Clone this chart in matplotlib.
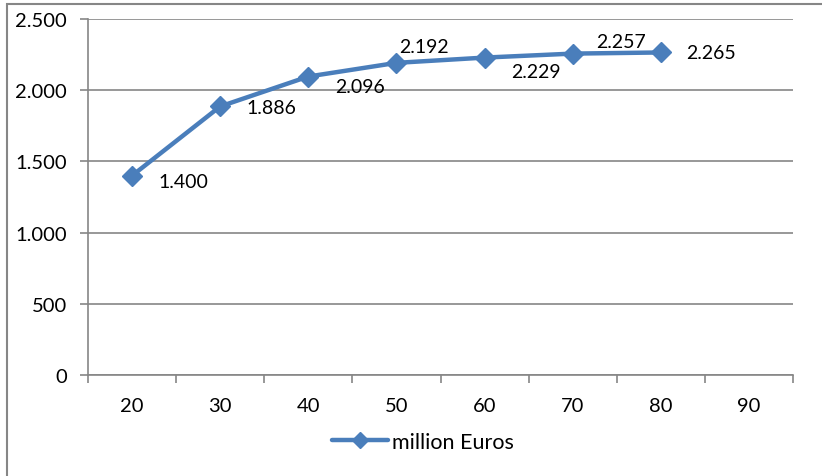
import matplotlib.pyplot as plt
from matplotlib.patches import Rectangle

# data
categories = ['20', '30', '40', '50', '60', '70', '80', '90']
values = [1400, 1886, 2096, 2192, 2229, 2257, 2265]
labels = ['1.400', '1.886', '2.096', '2.192', '2.229', '2.257', '2.265']
yticks = [0, 500, 1000, 1500, 2000, 2500]
ytick_labels = ['0', '500', '1.000', '1.500', '2.000', '2.500']

# label offsets (points) per data label
offsets = [(19, -4), (19, -1), (19, -7), (2, 12), (19, -10), (17, 9), (18, 0)]

plt.rcParams['font.family'] = ['Lato', 'DejaVu Sans']
grey = '#868686'
blue = '#4A7EBB'

fig = plt.figure(figsize=(8.22, 4.77), dpi=100)
ax = fig.add_axes([88 / 822, 1 - 376 / 477, (793 - 88) / 822, (376 - 20) / 477])

x = list(range(len(values)))
ax.plot(x, values, color=blue, lw=3.2, marker='D', ms=10,
        markerfacecolor=blue, markeredgecolor=blue, label='million Euros',
        solid_capstyle='round', zorder=3)

for xi, v, t, off in zip(x, values, labels, offsets):
    ax.annotate(t, (xi, v), xytext=off, textcoords='offset points',
                ha='left', va='center', fontsize=14, color='black')

ax.set_xlim(-0.5, len(categories) - 0.5)
ax.set_ylim(0, 2500)
ax.set_yticks(yticks)
ax.set_yticklabels(ytick_labels)
ax.set_xticks(range(len(categories)))
ax.set_xticklabels(categories)
ax.set_xticks([i - 0.5 for i in range(len(categories) + 1)], minor=True)

ax.grid(axis='y', color=grey, lw=1.2)
ax.set_axisbelow(True)
for s in ['top', 'right']:
    ax.spines[s].set_visible(False)
for s in ['left', 'bottom']:
    ax.spines[s].set_color(grey)
    ax.spines[s].set_linewidth(1.2)

ax.tick_params(axis='x', which='major', length=0, pad=16, labelsize=14.5)
ax.tick_params(axis='x', which='minor', length=6, color=grey, width=1.2)
ax.tick_params(axis='y', length=6, color=grey, width=1.2, pad=9, labelsize=14.5)

leg = fig.legend(loc='center', bbox_to_anchor=(423 / 822, 1 - 443 / 477),
                 frameon=False, fontsize=15.5, handlelength=2.6,
                 handletextpad=0.15, markerscale=0.8)

# outer chart border (partly cut off)
fig.patches.append(Rectangle((7 / 822, -0.1), 1.2, (477 - 5) / 477 + 0.1,
                             transform=fig.transFigure, fill=False,
                             edgecolor=grey, lw=1.5))

plt.savefig('out.png')
